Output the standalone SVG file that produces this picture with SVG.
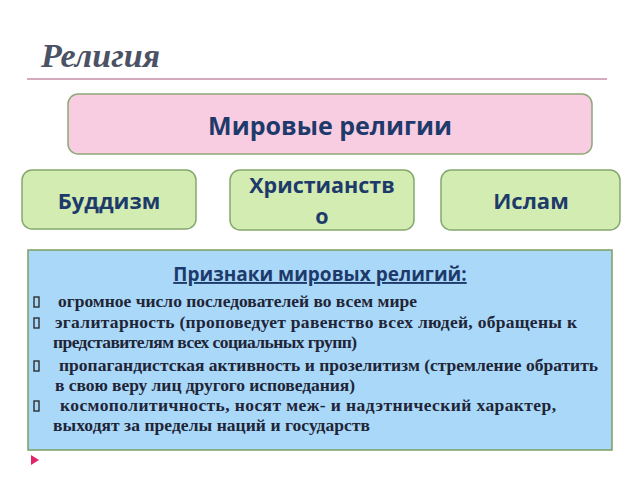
<svg xmlns="http://www.w3.org/2000/svg" width="640" height="480" viewBox="0 0 640 480">
<style>
.title{font-family:"Liberation Serif",serif;font-weight:bold;font-style:italic;font-size:34px;fill:#4a5263}
.pink{fill:#f9cde1;stroke:#8fa878;stroke-width:1.5}
.green{fill:#d3ecb2;stroke:#85a86c;stroke-width:1.5}
.blue{fill:#a9d8f9;stroke:#7aa05e;stroke-width:1.5}
.lbl{font-family:"Open Sans","DejaVu Sans",sans-serif;font-weight:bold;fill:#1d3a6b;text-anchor:middle}
.body{font-family:"Liberation Serif",serif;font-weight:bold;font-size:17.5px;fill:#1f2536}
.bul{fill:none;stroke:#222;stroke-width:1.3}
</style>
<rect width="640" height="480" fill="#ffffff"/>
<text class="title" x="41" y="67">Религия</text>
<line x1="27" y1="79" x2="607" y2="79" stroke="#d6aabd" stroke-width="2"/>
<g id="world">
<rect class="pink" x="68" y="94" width="524" height="60" rx="10"/>
<text class="lbl" x="330" y="135" font-size="25">Мировые религии</text>
</g>
<g id="buddhism">
<rect class="green" x="22" y="170" width="174" height="59" rx="10"/>
<text class="lbl" x="109" y="209" font-size="22">Буддизм</text>
</g>
<g id="christianity">
<rect class="green" x="230" y="170" width="184" height="60" rx="10"/>
<text class="lbl" x="322" y="193" font-size="21.5">Христианств</text>
<text class="lbl" x="322" y="224" font-size="21.5">о</text>
</g>
<g id="islam">
<rect class="green" x="441" y="170" width="179" height="60" rx="10"/>
<text class="lbl" x="531" y="209" font-size="22">Ислам</text>
</g>
<g id="signs">
<rect class="blue" x="28" y="250" width="584" height="200"/>
<text class="lbl" x="320" y="281" font-size="19" text-decoration="underline">Признаки мировых религий:</text>
<rect class="bul" x="34" y="297" width="5" height="10"/>
<rect class="bul" x="34" y="318" width="5" height="10"/>
<rect class="bul" x="34" y="361" width="5" height="10"/>
<rect class="bul" x="34" y="401" width="5" height="10"/>
<text class="body" x="58" y="307" textLength="359">огромное число последователей во всем мире</text>
<text class="body" x="55" y="328" textLength="522">эгалитарность (проповедует равенство всех людей, обращены к</text>
<text class="body" x="53" y="348" textLength="304">представителям всех социальных групп)</text>
<text class="body" x="59" y="371" textLength="539">пропагандистская активность и прозелитизм (стремление обратить</text>
<text class="body" x="55" y="391" textLength="300">в свою веру лиц другого исповедания)</text>
<text class="body" x="60" y="411" textLength="496">космополитичность, носят меж- и надэтнический характер,</text>
<text class="body" x="53" y="431" textLength="317">выходят за пределы наций и государств</text>
</g>
<polygon points="31,455 39,460 31,465" fill="#e0256c"/>
</svg>
